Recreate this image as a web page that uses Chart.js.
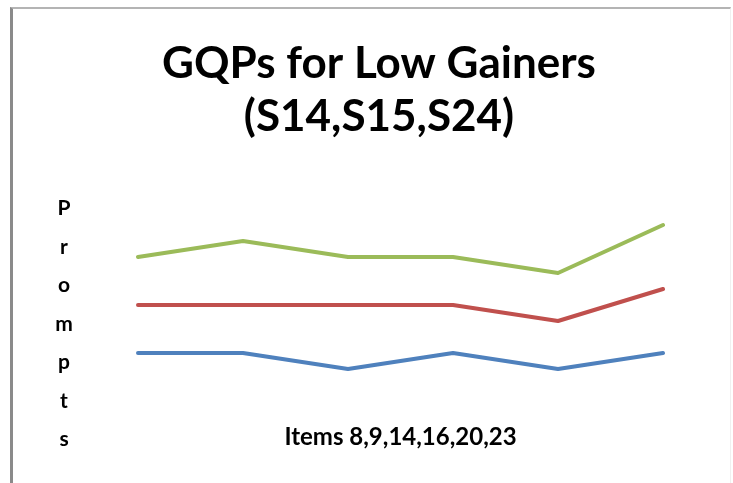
<!DOCTYPE html>
<html>
<head>
<meta charset="utf-8">
<script src="https://cdn.jsdelivr.net/npm/chart.js@4/dist/chart.umd.min.js"></script>
<style>
  html, body { margin: 0; padding: 0; background: #ffffff; }
  #wrap { position: relative; width: 733px; height: 483px; }
  #frame {
    position: absolute; left: 10px; top: 7px; right: 2px; bottom: 0;
    border-left: 3px solid #8a8a8a;
    border-top: 2px solid #b4b4b4;
    border-right: 1px solid #f0f0f0;
    pointer-events: none;
  }
</style>
</head>
<body>
<div id="wrap">
  <canvas id="chart" width="733" height="483"></canvas>
  <div id="frame"></div>
</div>
<script>
// Items on the horizontal axis
const categories = ['8', '9', '14', '16', '20', '23'];

// Prompt counts per student
const s14Values = [2, 2, 1, 2, 1, 2];   // blue
const s15Values = [5, 5, 5, 5, 4, 6];   // red
const s24Values = [8, 9, 8, 8, 7, 10];  // green

const titleLines = ['GQPs for Low Gainers', '(S14,S15,S24)'];
const xAxisTitle = 'Items 8,9,14,16,20,23';
const yAxisTitle = 'Prompts';

// Draws the y-axis title as a column of upright letters
const stackedYTitle = {
  id: 'stackedYTitle',
  afterDraw(chart) {
    const { ctx } = chart;
    ctx.save();
    ctx.font = 'bold 21px Lato, "Open Sans", sans-serif';
    ctx.fillStyle = '#000000';
    ctx.textAlign = 'center';
    ctx.textBaseline = 'alphabetic';
    const x = 64, top = 215, step = 38.5;
    [...yAxisTitle].forEach((ch, i) => ctx.fillText(ch, x, top + i * step));
    ctx.restore();
  }
};

new Chart(document.getElementById('chart'), {
  type: 'line',
  data: {
    labels: categories,
    datasets: [
      { label: 'S14', data: s14Values, borderColor: '#4f81bd' },
      { label: 'S15', data: s15Values, borderColor: '#c0504d' },
      { label: 'S24', data: s24Values, borderColor: '#9bbb59' }
    ]
  },
  options: {
    responsive: false,
    animation: false,
    devicePixelRatio: 1,
    layout: { padding: { top: 30, left: 95, right: 70, bottom: 0 } },
    elements: {
      line: { borderWidth: 4, tension: 0, borderCapStyle: 'round', borderJoinStyle: 'round', fill: false },
      point: { radius: 0, hoverRadius: 0 }
    },
    plugins: {
      legend: { display: false },
      tooltip: { enabled: false },
      title: {
        display: true,
        text: titleLines,
        color: '#000000',
        font: { family: 'Lato, "Open Sans", sans-serif', size: 44, weight: 'bold', lineHeight: 53 / 44 },
        padding: { top: 7.5, bottom: 65.5 }
      }
    },
    scales: {
      x: {
        offset: false,
        grid: { display: false, drawTicks: false },
        border: { display: false },
        ticks: { display: false },
        title: {
          display: true,
          text: xAxisTitle,
          color: '#000000',
          font: { family: 'Lato, "Open Sans", sans-serif', size: 24, weight: 'bold', lineHeight: 1.2 },
          padding: { top: 0, bottom: 31 }
        },
        afterFit(scale) { scale.height = 98; }
      },
      y: {
        min: 0,
        max: 11,
        grid: { display: false, drawTicks: false },
        border: { display: false },
        ticks: { display: false },
        afterFit(scale) { scale.width = 43; }
      }
    }
  },
  plugins: [stackedYTitle]
});
</script>
</body>
</html>
